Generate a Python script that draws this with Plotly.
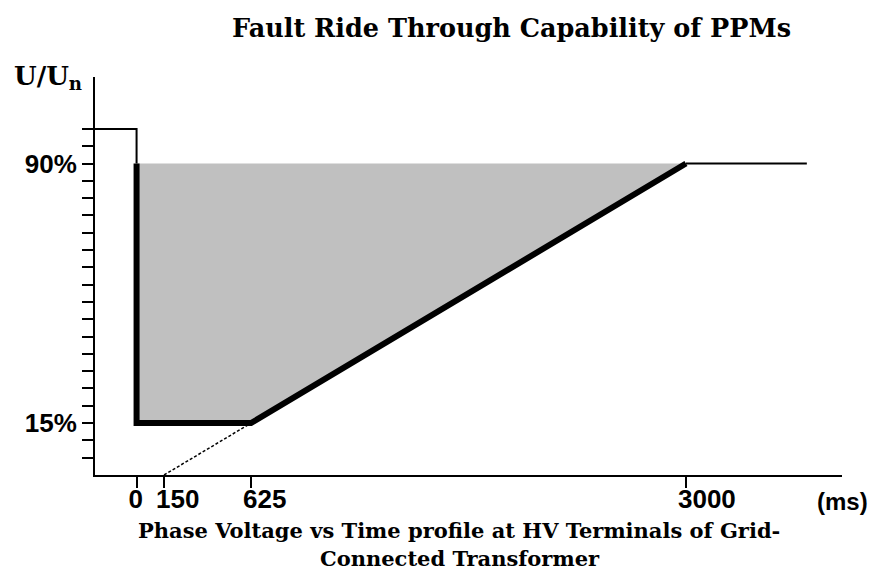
import plotly.graph_objects as go

# ---- data ----
X_TICK_VALS = [0, 150, 625, 3000]
X_TICK_TEXT = ["0", "150", "625", "3000"]
Y_TICK_VALS = list(range(5, 101, 5))
Y_TICK_LABELED = {15: "15%", 90: "90%"}

X_RANGE = [-227, 3852]
Y_RANGE = [0, 115]

# fault ride through envelope (ms, % of Un)
ENV_T = [0, 0, 625, 3000]
ENV_U = [90, 15, 15, 90]
# pre-fault voltage
PRE_T = [X_RANGE[0], 0, 0]
PRE_U = [100, 100, 90]
# post-fault voltage
POST_T = [3000, 3660]
POST_U = [90, 90]
# extension of the recovery ramp
EXT_T = [150, 625]
EXT_U = [0, 15]

Y_TICK_TEXT = [Y_TICK_LABELED.get(v, "") for v in Y_TICK_VALS]

fig = go.Figure()

# shaded region
fig.add_trace(go.Scatter(
    x=ENV_T + [ENV_T[0]], y=ENV_U + [ENV_U[0]],
    fill="toself", fillcolor="#c0c0c0", mode="lines",
    line=dict(width=0, color="#c0c0c0"), hoverinfo="skip", showlegend=False))

fig.add_trace(go.Scatter(x=PRE_T, y=PRE_U, mode="lines",
                         line=dict(color="black", width=2), showlegend=False))
fig.add_trace(go.Scatter(x=POST_T, y=POST_U, mode="lines",
                         line=dict(color="black", width=2), showlegend=False))
fig.add_trace(go.Scatter(x=EXT_T, y=EXT_U, mode="lines",
                         line=dict(color="black", width=1.5, dash="3px,2px"),
                         showlegend=False))
fig.add_trace(go.Scatter(x=ENV_T, y=ENV_U, mode="lines",
                         line=dict(color="black", width=6), showlegend=False))

W, H = 875, 570
ML, MR, MT, MB = 95, 33, 77, 95
PW, PH = W - ML - MR, H - MT - MB


def px_x(p):
    return (p - ML) / PW


def px_y(p):
    return (H - MB - p) / PH


fig.update_layout(
    width=W, height=H,
    margin=dict(l=ML, r=MR, t=MT, b=MB, autoexpand=False),
    plot_bgcolor="white", paper_bgcolor="white",
    showlegend=False,
    xaxis=dict(
        range=X_RANGE, showgrid=False, zeroline=False, automargin=False,
        showline=True, linecolor="black", linewidth=2,
        ticks="outside", ticklen=11, tickwidth=2, tickcolor="black",
        tickmode="array", tickvals=X_TICK_VALS, ticktext=X_TICK_TEXT,
        tickangle=0,
        ticklabelposition="outside right", ticklabelshift=-10,
        tickfont=dict(family="Liberation Sans", size=26, color="black", weight="bold"),
    ),
    yaxis=dict(
        range=Y_RANGE, showgrid=False, zeroline=False, automargin=False,
        showline=True, linecolor="black", linewidth=2,
        ticks="outside", ticklen=11, tickwidth=2, tickcolor="black",
        tickmode="array", tickvals=Y_TICK_VALS, ticktext=Y_TICK_TEXT,
        tickfont=dict(family="Liberation Sans", size=26, color="black", weight="bold"),
    ),
)

serif = "DejaVu Serif"
annots = [
    dict(text="<b>Fault Ride Through Capability of PPMs</b>",
         x=px_x(512), y=px_y(28), font=dict(family=serif, size=25.5, color="black")),
    dict(text="<b>U/U<sub>n</sub></b>", x=px_x(12), y=px_y(78), xanchor="left",
         font=dict(family=serif, size=26, color="black")),
    dict(text="<b>(ms)</b>", x=px_x(815), y=px_y(501), xanchor="left",
         font=dict(family="Liberation Sans", size=24, color="black")),
    dict(text="<b>Phase Voltage vs Time profile at HV Terminals of Grid-</b>",
         x=px_x(459), y=px_y(530), font=dict(family=serif, size=21, color="black")),
    dict(text="<b>Connected Transformer</b>",
         x=px_x(460), y=px_y(558), font=dict(family=serif, size=21, color="black")),
]
for a in annots:
    a.setdefault("xanchor", "center")
    fig.add_annotation(xref="paper", yref="paper", showarrow=False,
                       yanchor="middle", **a)

fig.write_html("out.html",
               config={"displayModeBar": False},
               post_script="document.body.style.margin='0';document.body.style.overflow='hidden';")
